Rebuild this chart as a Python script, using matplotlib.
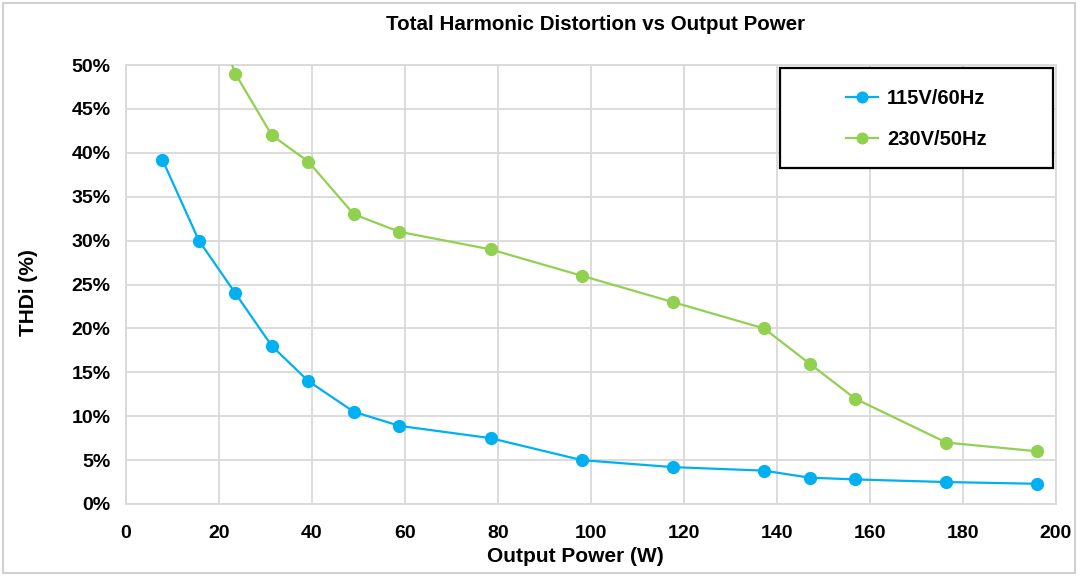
import matplotlib
matplotlib.use("Agg")
import matplotlib.pyplot as plt
from matplotlib.patches import Rectangle
from matplotlib.ticker import FixedLocator, FixedFormatter

# ---- data ----
power_115 = [7.84, 15.68, 23.52, 31.36, 39.2, 49, 58.8, 78.4, 98, 117.6, 137.2, 147, 156.8, 176.4, 196]
thd_115 = [39.2, 30.0, 24.0, 18.0, 14.0, 10.5, 8.9, 7.5, 5.0, 4.2, 3.8, 3.0, 2.8, 2.5, 2.3]

power_230 = [15.68, 23.52, 31.36, 39.2, 49, 58.8, 78.4, 98, 117.6, 137.2, 147, 156.8, 176.4, 196]
thd_230 = [60.0, 49.0, 42.0, 39.0, 33.0, 31.0, 29.0, 26.0, 23.0, 20.0, 16.0, 12.0, 7.0, 6.0]

series_labels = ["115V/60Hz", "230V/50Hz"]
x_ticks = [0, 20, 40, 60, 80, 100, 120, 140, 160, 180, 200]
y_ticks = [0, 5, 10, 15, 20, 25, 30, 35, 40, 45, 50]
y_tick_labels = [f"{v}%" for v in y_ticks]

title = "Total Harmonic Distortion vs Output Power"
x_label = "Output Power (W)"
y_label = "THDi (%)"

# ---- style ----
plt.rcParams['font.family'] = ['Liberation Sans', 'DejaVu Sans']
plt.rcParams['font.weight'] = 'bold'

W, H = 1080, 576
fig = plt.figure(figsize=(W / 100, H / 100), dpi=100)
fig.patch.set_facecolor('white')

ax = fig.add_axes([126 / W, 1 - 504 / H, (1056 - 126) / W, (504 - 65) / H])

blue = '#00B0F0'
green = '#92D050'
grid_c = '#D9D9D9'

l1, = ax.plot(power_115, thd_115, color=blue, lw=1.6, marker='o', ms=8.5,
              label=series_labels[0], zorder=3)
l2, = ax.plot(power_230, thd_230, color=green, lw=1.6, marker='o', ms=8.5,
              label=series_labels[1], zorder=3)

ax.set_xlim(0, 200)
ax.set_ylim(0, 50)
ax.xaxis.set_major_locator(FixedLocator(x_ticks))
ax.yaxis.set_major_locator(FixedLocator(y_ticks))
ax.yaxis.set_major_formatter(FixedFormatter(y_tick_labels))
ax.grid(True, color=grid_c, lw=1.3, zorder=0)
ax.set_axisbelow(True)
for s in ax.spines.values():
    s.set_color(grid_c)
    s.set_linewidth(1.3)
ax.tick_params(length=0, labelsize=14)
ax.tick_params(axis='y', pad=11)
ax.tick_params(axis='x', pad=15)
for lab in ax.get_xticklabels() + ax.get_yticklabels():
    lab.set_fontweight('bold')

fig.text(596 / W, 1 - 25 / H, title, ha='center', va='center', fontsize=14.8, fontweight='bold')
fig.text(575 / W, 1 - 557 / H, x_label, ha='center', va='center', fontsize=15, fontweight='bold')
fig.text(29 / W, 1 - 293 / H, y_label, ha='center', va='center', fontsize=15, fontweight='bold',
         rotation=90)

# legend box
fig.patches.append(Rectangle((780 / W, 1 - 168 / H), (1053 - 780) / W, (168 - 68) / H,
                             transform=fig.transFigure, facecolor='white', edgecolor='black',
                             lw=1.6, zorder=5))
leg = fig.legend(handles=[l1, l2], loc='center', bbox_to_anchor=(916 / W, 1 - 119 / H),
                 frameon=False, fontsize=14.5, handlelength=1.6, handletextpad=0.45,
                 labelspacing=1.1, markerscale=0.9)
leg.set_zorder(6)
for t in leg.get_texts():
    t.set_fontweight('bold')

# outer frame
fig.patches.append(Rectangle((3 / W, 3 / H), (1075 - 3) / W, (573 - 3) / H,
                             transform=fig.transFigure, facecolor='none', edgecolor='#D0D0D0',
                             lw=1.5, zorder=0))

fig.savefig('out.png', dpi=100)
